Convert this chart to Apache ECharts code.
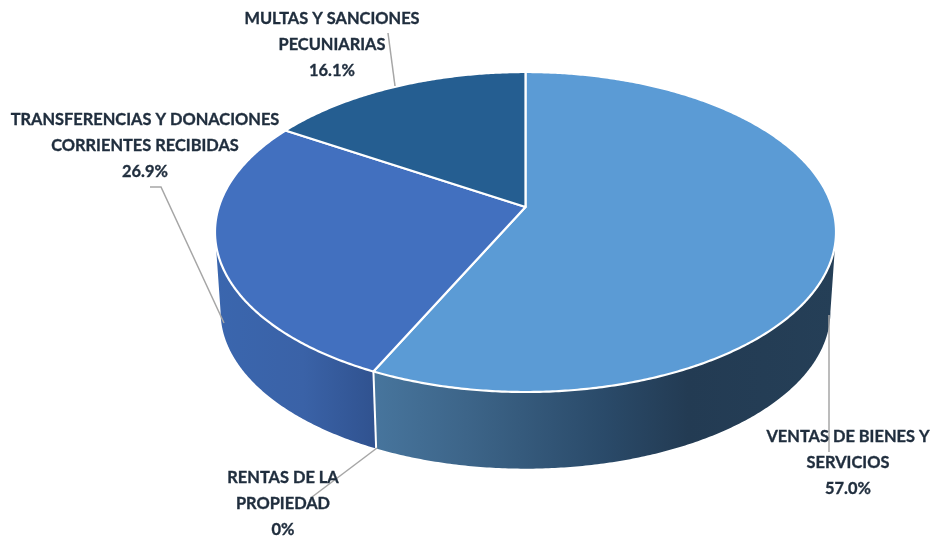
<!DOCTYPE html>
<html><head><meta charset="utf-8">
<style>html,body{margin:0;padding:0;background:#fff}#c{width:937px;height:542px}</style>
<script src="https://cdn.jsdelivr.net/npm/echarts@6/dist/echarts.min.js"></script>
</head><body><div id="c"></div>
<script>
// Data, clockwise from 12 o'clock
const categories = ['VENTAS DE BIENES Y\nSERVICIOS', 'RENTAS DE LA\nPROPIEDAD', 'TRANSFERENCIAS Y DONACIONES\nCORRIENTES RECIBIDAS', 'MULTAS Y SANCIONES\nPECUNIARIAS'];
const values = [57.0, 0, 26.9, 16.1];
const valueLabels = ['57.0%', '0%', '26.9%', '16.1%'];

// Styles
const topColors = ['#5b9bd5', '#a5a5a5', '#4270bf', '#255e91'];
const wallStops = [
  [[0,'#47759d'],[0.2,'#3d6589'],[0.5,'#2a4a69'],[0.68,'#233b53'],[1,'#253f57']],
  [[0,'#3a66ae'],[1,'#3a66ae']],
  [[0,'#3a66ae'],[0.55,'#3a62a7'],[1,'#30528f']],
  [[0,'#255e91'],[1,'#255e91']]
];
const labelCenters = [[848,437],[283,478],[145,120],[332,19]];
const leaderPaths = [
  [[829,315],[829,452]],
  [[377,448],[312,497]],
  [[150,187],[161,187],[224,323]],
  [[388,33],[395,86]]
];

// Tilted-disc projection of the pie
const C = {x:525.5, y:207, k:306.7, a:156.1, b:0.15625};
const WALL = {s:0.982, dy:80, from:99, to:261};
const total = values.reduce((s,v)=>s+v,0);
let run = 0;
const rows = values.map((v,i)=>{const r=[v,run,i]; run+=v; return r;});

function project(deg, s, dy){
  const t = deg*Math.PI/180, X = Math.sin(t), Y = -Math.cos(t), d = 1 - C.b*Y;
  return [C.x + s*C.k*X/d, C.y + dy + s*C.a*Y/d];
}
function arc(a0, a1, s, dy){
  const n = Math.max(2, Math.ceil(Math.abs(a1-a0)*2)), pts = [];
  for(let i=0;i<=n;i++) pts.push(project(a0+(a1-a0)*i/n, s, dy));
  return pts;
}
function angles(api){
  const a0 = api.value(1)/total*360, a1 = (api.value(1)+api.value(0))/total*360;
  return [a0,a1];
}
function grad(stops, x0, x1){
  return {type:'linear', global:true, x:x0, y:0, x2:x1, y2:0,
    colorStops:stops.map(s=>({offset:s[0], color:s[1]}))};
}
function renderWall(params, api){
  const [a0,a1] = angles(api), i = api.value(2);
  const f = Math.max(a0, WALL.from), t = Math.min(a1, WALL.to);
  if(t <= f) return {type:'group', children:[]};
  const upper = arc(f,t,1,0), lower = arc(t,f,WALL.s,WALL.dy);
  const pts = upper.concat(lower), xs = pts.map(p=>p[0]);
  return {type:'polygon', shape:{points:pts},
    style:{fill:grad(wallStops[i], Math.min(...xs), Math.max(...xs))}};
}
function renderSeam(params, api){
  const [a0,a1] = angles(api);
  if(a1 <= WALL.from || a1 >= WALL.to || a1 === a0) return {type:'group', children:[]};
  return {type:'line', shape:{x1:project(a1,1,0)[0], y1:project(a1,1,0)[1],
    x2:project(a1,WALL.s,WALL.dy)[0], y2:project(a1,WALL.s,WALL.dy)[1]},
    style:{stroke:'#fff', lineWidth:2}};
}
function renderTop(params, api){
  const [a0,a1] = angles(api), i = api.value(2);
  if(a1 === a0) return {type:'group', children:[]};
  const pts = [project(0,0,0)].concat(arc(a0,a1,1,0));
  return {type:'polygon', shape:{points:pts},
    style:{fill:topColors[i], stroke:'#fff', lineWidth:2.2, lineJoin:'round'}};
}
function renderLabel(params, api){
  const i = api.value(2), c = labelCenters[i];
  const lines = (categories[i]+'\n'+valueLabels[i]).split('\n');
  return {type:'group', children:[
    {type:'polyline', shape:{points:leaderPaths[i]}, style:{stroke:'#a6a6a6', lineWidth:1.5, fill:'none'}}
  ].concat(lines.map((t,k)=>({type:'text', style:{text:t, x:c[0], y:c[1]+k*25.8,
    align:'center', verticalAlign:'middle', fill:'#1f2d3d', stroke:'#1f2d3d', lineWidth:0.35,
    font:'bold 16.4px Lato, "Open Sans", sans-serif'}})))};
}
const chart = echarts.init(document.getElementById('c'), null, {renderer:'canvas'});
const base = {type:'custom', coordinateSystem:'none', data:rows, silent:true, animation:false, encode:{}};
chart.setOption({
  animation:false, backgroundColor:'#fff',
  series:[
    Object.assign({}, base, {z:1, renderItem:renderWall}),
    Object.assign({}, base, {z:2, renderItem:renderSeam}),
    Object.assign({}, base, {z:3, renderItem:renderTop}),
    Object.assign({}, base, {z:4, renderItem:renderLabel})
  ]
});
</script></body></html>
